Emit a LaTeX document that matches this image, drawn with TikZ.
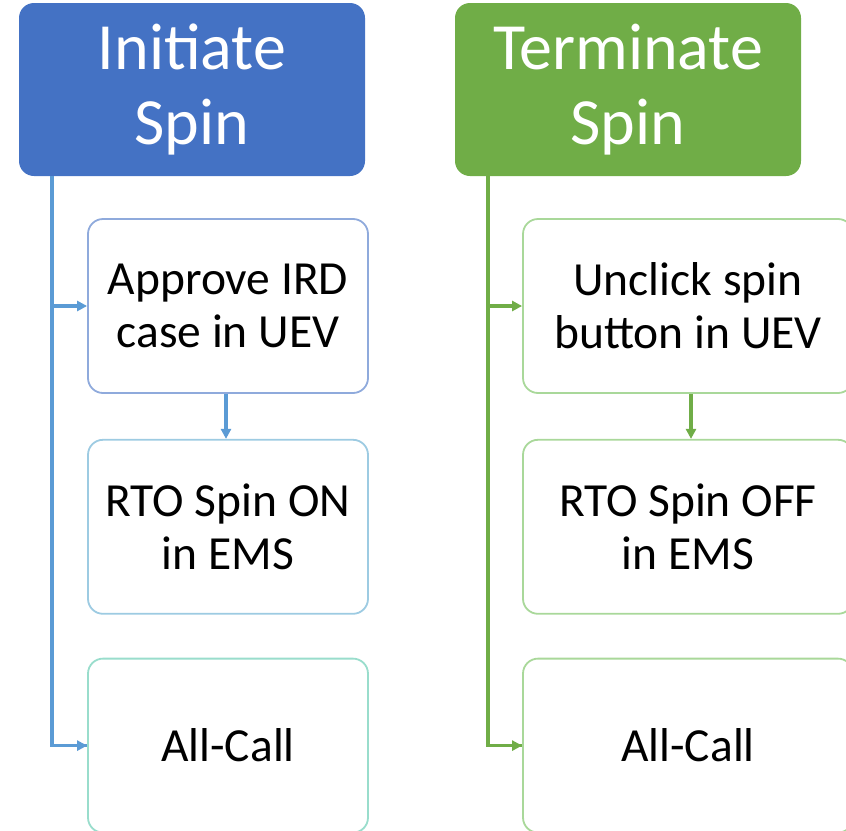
\documentclass[tikz,border=0pt]{standalone}
\usepackage{fontspec}
\setmainfont{Carlito}
\usetikzlibrary{arrows.meta,positioning}

\definecolor{hdrblue}{HTML}{4472C4}
\definecolor{lineblue}{HTML}{5B9BD5}
\definecolor{hdrgreen}{HTML}{70AD47}
\definecolor{edgeA}{HTML}{8FAADC}
\definecolor{edgeB}{HTML}{9DCBE2}
\definecolor{edgeC}{HTML}{99DDCC}
\definecolor{edgeG}{HTML}{A9D89A}

\begin{document}
\begin{tikzpicture}[x=1pt, y=-1pt, >={Triangle[length=10pt,width=10pt]},
                    node distance=44pt]
    \tikzstyle{header}=[rectangle, rounded corners=15pt, draw=none,
        minimum width=346pt, minimum height=173pt, text=white, align=center,
        font=\fontsize{66}{75}\selectfont]
    \tikzstyle{task}=[rectangle, rounded corners=15pt, line width=1.8pt, fill=white,
        minimum width=280pt, minimum height=174pt, align=center,
        font=\fontsize{47.5}{53}\selectfont, text=black]
    \tikzstyle{link}=[line width=3.5pt]

    \useasboundingbox (0,0) rectangle (846,830);

    % initiate column
    \node[header, fill=hdrblue]   (initL) at (192,89.5)  {Initiate\\Spin};
    \node[task, draw=edgeA]       (apL)   at (228,306)   {Approve IRD\\case in UEV};
    \node[task, draw=edgeB]       (rtoL)  [below=45pt of apL]  {RTO Spin ON\\in EMS};
    \node[task, draw=edgeC]       (allL)  [below=43pt of rtoL] {All-Call};
    \coordinate (spineL) at (52,176);

    % terminate column
    \node[header, fill=hdrgreen]  (termR) at (628,89.5)  {Terminate\\Spin};
    \node[task, draw=edgeG, minimum width=330pt] (unR) at (688,306) {Unclick spin\\button in UEV};
    \node[task, draw=edgeG, minimum width=330pt] (rtoR) [below=45pt of unR]  {RTO Spin OFF\\in EMS};
    \node[task, draw=edgeG, minimum width=330pt] (allR) [below=43pt of rtoR] {All-Call};
    \coordinate (spineR) at (488,176);

    \draw[link, lineblue]  (spineL) |- (allL.west);
    \draw[link, ->, lineblue]  (spineL |- apL.west) -- (apL.west);
    \draw[link, ->, lineblue]  (spineL |- allL.west) -- (allL.west);
    \draw[link, ->, lineblue]  (apL.south -| 226,0) -- (rtoL.north -| 226,0);

    \draw[link, hdrgreen]  (spineR) |- (allR.west);
    \draw[link, ->, hdrgreen]  (spineR |- unR.west) -- (unR.west);
    \draw[link, ->, hdrgreen]  (spineR |- allR.west) -- (allR.west);
    \draw[link, ->, hdrgreen]  (unR.south -| 691,0) -- (rtoR.north -| 691,0);
\end{tikzpicture}
\end{document}
